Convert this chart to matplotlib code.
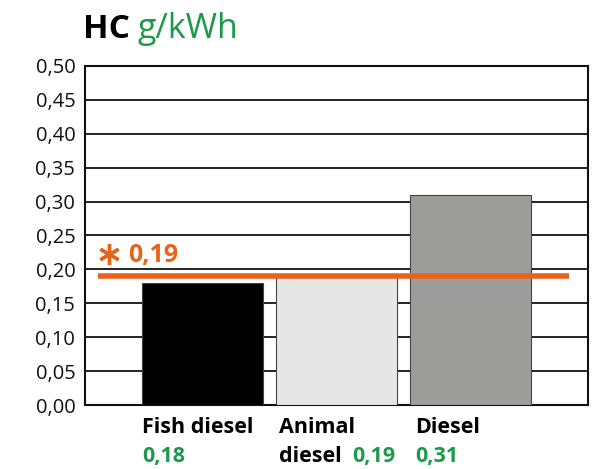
import matplotlib
matplotlib.use("Agg")
import matplotlib.pyplot as plt
from matplotlib.transforms import blended_transform_factory

categories = ["Fish diesel", "Animal\ndiesel", "Diesel"]
values = [0.18, 0.19, 0.31]
value_labels = ["0,18", "0,19", "0,31"]
bar_colors = ["#000000", "#e6e6e6", "#9d9d9c"]
limit_value = 0.19
limit_label = "0,19"
yticks = [0.00, 0.05, 0.10, 0.15, 0.20, 0.25, 0.30, 0.35, 0.40, 0.45, 0.50]
ytick_labels = [f"{t:.2f}".replace(".", ",") for t in yticks]

GREEN = "#1b9a4a"
ORANGE = "#e8631a"
FONT = ["Open Sans", "DejaVu Sans"]
plt.rcParams["font.family"] = FONT

fig = plt.figure(figsize=(5.98, 4.69), dpi=100)
ax = fig.add_axes([85/598, 64/469, 503/598, 339/469])

x = list(range(len(categories)))
ax.bar(x, values, width=0.9, color=bar_colors, edgecolor="#444444", linewidth=0.8, zorder=3)

ax.set_ylim(0, 0.5)
ax.set_xlim(-0.877, 2.877)
ax.set_yticks(yticks)
ax.set_yticklabels(ytick_labels, fontsize=14.5, color="#111111")
ax.set_xticks([])
ax.tick_params(axis="y", length=0, pad=7)
for y in yticks[1:-1]:
    ax.axhline(y, color="#111111", linewidth=1.3, zorder=1)
for s in ax.spines.values():
    s.set_color("#111111")
    s.set_linewidth(1.5)

# limit line
ax.plot([-0.78, 2.735], [limit_value, limit_value], color=ORANGE, linewidth=4, zorder=4, solid_capstyle="butt")
ax.plot([-0.695], [limit_value + 0.032], linestyle="none", marker=(6, 2, 0), markersize=15,
        markeredgewidth=2.4, color=ORANGE, zorder=5)
ax.text(-0.556, limit_value + 0.021, limit_label, color=ORANGE, fontsize=18, fontweight="bold",
        va="baseline", ha="left", zorder=5)

# category labels
tr = blended_transform_factory(ax.transData, ax.transAxes)
line1 = -0.083
line2 = -0.168
fs = 15.5
ax.text(x[0] - 0.45, line1, "Fish diesel", transform=tr, fontsize=fs, fontweight="bold", va="baseline", ha="left")
ax.text(x[0] - 0.45, line2, value_labels[0], transform=tr, fontsize=fs, fontweight="bold", va="baseline", ha="left", color=GREEN)
ax.text(x[1] - 0.43, line1, "Animal", transform=tr, fontsize=fs, fontweight="bold", va="baseline", ha="left")
ax.text(x[1] - 0.43, line2, "diesel", transform=tr, fontsize=fs, fontweight="bold", va="baseline", ha="left")
ax.text(x[1] + 0.12, line2, value_labels[1], transform=tr, fontsize=fs, fontweight="bold", va="baseline", ha="left", color=GREEN)
ax.text(x[2] - 0.41, line1, "Diesel", transform=tr, fontsize=fs, fontweight="bold", va="baseline", ha="left")
ax.text(x[2] - 0.41, line2, value_labels[2], transform=tr, fontsize=fs, fontweight="bold", va="baseline", ha="left", color=GREEN)

# title
fig.text(83/598, 1 - 38/469, "HC", fontsize=24, fontweight="bold", color="#000000", va="baseline", ha="left")
fig.text(138/598, 1 - 38/469, "g/kWh", fontsize=24.5, color=GREEN, va="baseline", ha="left")

fig.savefig("out.png", dpi=100)
